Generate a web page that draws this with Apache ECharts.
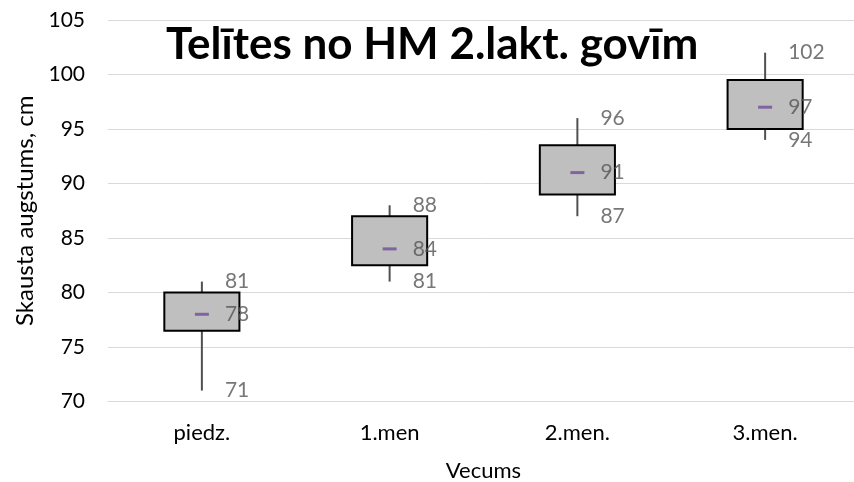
<!DOCTYPE html>
<html><head><meta charset="utf-8">
<script src="https://cdn.jsdelivr.net/npm/echarts@6/dist/echarts.min.js"></script>
<style>html,body{margin:0;padding:0;background:#fff}#c{width:854px;height:482px}</style>
</head><body><div id="c"></div>
<script>
const categories = ['piedz.', '1.men', '2.men.', '3.men.'];
const boxLow = [76.5, 82.5, 89, 95];
const boxHigh = [80, 87, 93.5, 99.5];
const minVals = [71, 81, 87, 94];
const maxVals = [81, 88, 96, 102];
const meanVals = [78, 84, 91, 97];
const yTicks = {min: 70, max: 105, interval: 5};

const FONT = 'Lato';
const chart = echarts.init(document.getElementById('c'));

const boxData = categories.map((c, i) => [i, boxLow[i], boxHigh[i], minVals[i], maxVals[i], meanVals[i]]);

function labelSeries(vals) {
  return {
    type: 'scatter',
    data: vals.map((v, i) => [i, v]),
    symbolSize: 0,
    silent: true,
    z: 5,
    label: {show: true, position: 'right', distance: 23, color: '#555555', fontFamily: FONT, fontSize: 21,
      formatter: p => p.value[1]}
  };
}

chart.setOption({
  animation: false,
  title: {
    text: 'Telītes no HM 2.lakt. govīm',
    left: 161, top: 18,
    textStyle: {fontFamily: FONT, fontWeight: 'bold', fontSize: 44, color: '#000'}
  },
  grid: {left: 108, right: -5, top: 20, bottom: 80.5, containLabel: false, outerBoundsMode: 'none'},
  xAxis: {
    type: 'category', data: categories,
    axisLine: {show: true, lineStyle: {color: '#D9D9D9', width: 1}},
    axisTick: {show: false},
    axisLabel: {color: '#000', fontFamily: FONT, fontSize: 22, margin: 20},
    name: 'Vecums', nameLocation: 'middle', nameGap: 58,
    nameTextStyle: {color: '#000', fontFamily: FONT, fontSize: 22}
  },
  yAxis: {
    type: 'value', min: yTicks.min, max: yTicks.max, interval: yTicks.interval,
    axisLine: {show: false}, axisTick: {show: false},
    splitLine: {lineStyle: {color: '#D9D9D9', width: 1}},
    axisLabel: {color: '#000', fontFamily: FONT, fontSize: 21, margin: 23},
    name: 'Skausta augstums, cm', nameLocation: 'middle', nameGap: 68,
    nameTextStyle: {color: '#000', fontFamily: FONT, fontSize: 24}
  },
  series: [
    {
      type: 'custom',
      data: boxData,
      encode: {x: 0, y: [1, 2, 3, 4, 5]},
      renderItem: function (params, api) {
        const x = api.value(0);
        const lo = api.coord([x, api.value(1)]);
        const hi = api.coord([x, api.value(2)]);
        const mn = api.coord([x, api.value(3)]);
        const mx = api.coord([x, api.value(4)]);
        const me = api.coord([x, api.value(5)]);
        const bw = api.size([1, 0])[0] * 0.4;
        return {
          type: 'group',
          children: [
            {type: 'line', shape: {x1: mx[0], y1: mx[1], x2: mx[0], y2: hi[1]}, style: {stroke: '#505050', lineWidth: 2}},
            {type: 'line', shape: {x1: mn[0], y1: lo[1], x2: mn[0], y2: mn[1]}, style: {stroke: '#505050', lineWidth: 2}},
            {type: 'rect', shape: {x: lo[0] - bw / 2, y: hi[1], width: bw, height: lo[1] - hi[1]}, style: {fill: '#BFBFBF', stroke: '#000', lineWidth: 2}},
            {type: 'line', shape: {x1: me[0] - 7, y1: me[1], x2: me[0] + 7, y2: me[1]}, style: {stroke: '#8064A2', lineWidth: 3}}
          ]
        };
      }
    },
    labelSeries(maxVals),
    labelSeries(meanVals),
    labelSeries(minVals)
  ]
});
</script></body></html>
